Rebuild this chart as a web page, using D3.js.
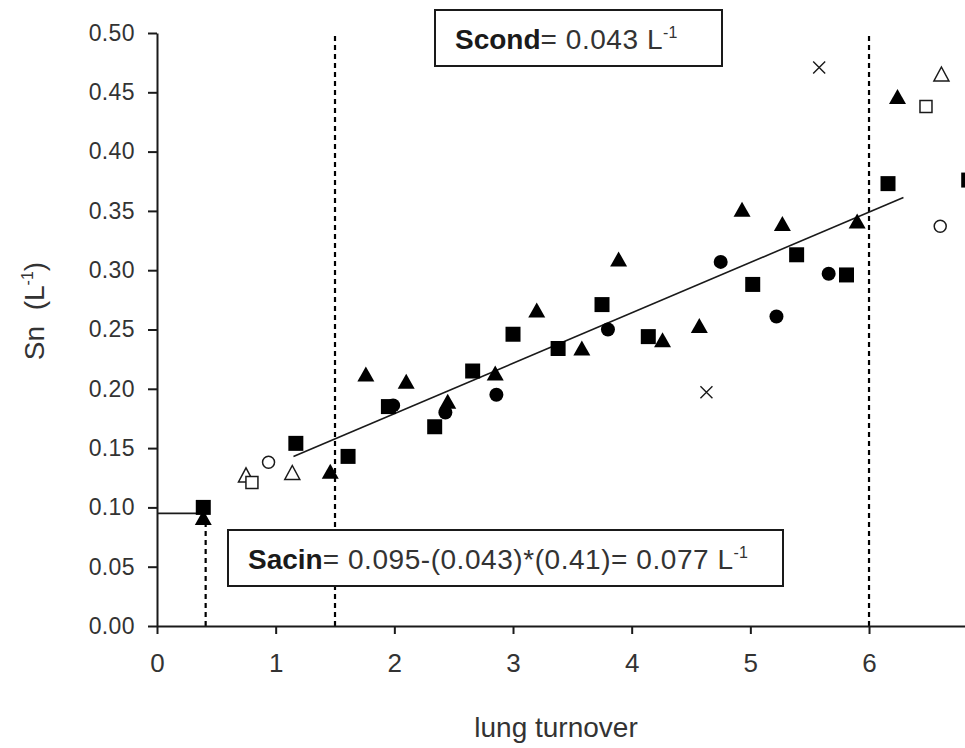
<!DOCTYPE html>
<html>
<head>
<meta charset="utf-8">
<script src="https://cdn.jsdelivr.net/npm/d3@7"></script>
<style>
  body { margin: 0; background: #fff; }
  svg { display: block; font-family: "Liberation Sans", Arial, sans-serif; }
</style>
</head>
<body>
<script>
// values: [lung turnover, Sn]
var xTicks = [0, 1, 2, 3, 4, 5, 6],
  yTicks = [0, 0.05, 0.10, 0.15, 0.20, 0.25, 0.30, 0.35, 0.40, 0.45, 0.50],
  filledSquares = [
    [0.39, 0.100], [1.17, 0.154], [1.61, 0.143], [1.95, 0.185], [2.34, 0.168],
    [2.66, 0.215], [3.00, 0.246], [3.38, 0.234], [3.75, 0.271], [4.14, 0.244],
    [5.02, 0.288], [5.39, 0.313], [5.81, 0.296], [6.16, 0.373], [6.84, 0.376]
  ],
  filledTriangles = [
    [0.39, 0.091], [1.46, 0.130], [1.76, 0.212], [2.10, 0.206], [2.45, 0.189],
    [2.85, 0.213], [3.20, 0.266], [3.58, 0.234], [3.89, 0.309], [4.26, 0.241],
    [4.57, 0.253], [4.93, 0.351], [5.27, 0.339], [5.90, 0.341], [6.24, 0.446]
  ],
  filledCircles = [
    [1.99, 0.186], [2.43, 0.180], [2.86, 0.195], [3.80, 0.250], [4.75, 0.307],
    [5.22, 0.261], [5.66, 0.297]
  ],
  openTriangles = [[0.75, 0.127], [1.14, 0.129], [6.61, 0.465]],
  openSquares = [[0.80, 0.121], [6.48, 0.438]],
  openCircles = [[0.94, 0.138], [6.60, 0.337]],
  crosses = [[4.63, 0.197], [5.58, 0.471]],
  fitRange = [1.15, 6.29],
  fitIntercept = 0.094,
  fitSlope = 0.0425,
  dashedLines = [
    {x: 0.41, top: 0.09},
    {x: 1.5, top: 0.5},
    {x: 6.0, top: 0.5}
  ],
  interceptLine = {y: 0.095, x0: 0, x1: 0.41};

var width = 965,
  height = 748,
  unit = 118.67,
  ink = '#1a1a1a',
  textInk = '#333',
  svg = d3.select('body').append('svg')
    .attr('width', width)
    .attr('height', height),
  x = d3.scaleLinear().domain([0, 7]).range([157, 157 + 7 * unit]),
  y = d3.scaleLinear().domain([0, 0.5]).range([626, 33]),
  markers = {
    square: 'M-7.5,-7.5H7.5V7.5H-7.5Z',
    smallSquare: 'M-6,-6H6V6H-6Z',
    triangle: 'M0,-8L8.5,7L-8.5,7Z',
    openTriangle: 'M0,-7.5L7.5,6.5L-7.5,6.5Z',
    cross: 'M-6,-6L6,6M6,-6L-6,6'
  };

// reference lines
svg.append('g').selectAll('line').data(dashedLines).join('line')
  .attr('x1', function(d) { return x(d.x); })
  .attr('x2', function(d) { return x(d.x); })
  .attr('y1', y(0))
  .attr('y2', function(d) { return y(d.top); })
  .attr('stroke', '#000')
  .attr('stroke-width', 2.2)
  .attr('stroke-dasharray', '5,4');

svg.append('line')
  .attr('x1', x(interceptLine.x0))
  .attr('x2', x(interceptLine.x1))
  .attr('y1', y(interceptLine.y))
  .attr('y2', y(interceptLine.y))
  .attr('stroke', ink)
  .attr('stroke-width', 1.8);

// regression line
svg.append('path')
  .datum(fitRange)
  .attr('d', d3.line()
    .x(function(d) { return x(d); })
    .y(function(d) { return y(fitIntercept + fitSlope * d); }))
  .attr('stroke', ink)
  .attr('stroke-width', 1.6)
  .attr('fill', 'none');

// axes
var xAxis = svg.append('g')
  .attr('transform', 'translate(0,' + y(0) + ')')
  .call(d3.axisBottom(x).tickValues(xTicks).tickSize(8).tickSizeOuter(0)
    .tickPadding(20).tickFormat(d3.format('d')));

var yAxis = svg.append('g')
  .attr('transform', 'translate(' + x(0) + ',0)')
  .call(d3.axisLeft(y).tickValues(yTicks).tickSize(9).tickSizeOuter(0)
    .tickPadding(13).tickFormat(d3.format('.2f')));

[xAxis, yAxis].forEach(function(axis) {
  axis.attr('font-family', null);
  axis.selectAll('path, line').attr('stroke', ink).attr('stroke-width', 2);
  axis.selectAll('text').attr('fill', textInk);
});
xAxis.selectAll('text').attr('font-size', 26);
yAxis.selectAll('text').attr('font-size', 23).attr('letter-spacing', 0.4);

// markers
var drawPath = function(data, shape, fill) {
    svg.append('g').selectAll('path').data(data).join('path')
      .attr('transform', function(d) { return 'translate(' + x(d[0]) + ',' + y(d[1]) + ')'; })
      .attr('d', markers[shape])
      .attr('fill', fill)
      .attr('stroke', ink)
      .attr('stroke-width', fill === 'none' ? 1.4 : (fill === '#fff' ? 1.5 : 0));
  },
  drawCircles = function(data, fill) {
    svg.append('g').selectAll('circle').data(data).join('circle')
      .attr('cx', function(d) { return x(d[0]); })
      .attr('cy', function(d) { return y(d[1]); })
      .attr('r', fill === '#fff' ? 6 : 7)
      .attr('fill', fill)
      .attr('stroke', ink)
      .attr('stroke-width', fill === '#fff' ? 1.5 : 0);
  };

drawPath(filledSquares, 'square', '#000');
drawPath(filledTriangles, 'triangle', '#000');
drawCircles(filledCircles, '#000');
drawPath(openTriangles, 'openTriangle', '#fff');
drawPath(openSquares, 'smallSquare', '#fff');
drawCircles(openCircles, '#fff');
drawPath(crosses, 'cross', 'none');

// annotation boxes
var addBox = function(bx, by, bw, bh, label, rest) {
  var g = svg.append('g'),
    t;
  g.append('rect')
    .attr('x', bx).attr('y', by)
    .attr('width', bw).attr('height', bh)
    .attr('fill', '#fff')
    .attr('stroke', ink)
    .attr('stroke-width', 2);
  t = g.append('text')
    .attr('x', bx + 20)
    .attr('y', by + 39)
    .attr('font-size', 28)
    .attr('fill', ink);
  t.append('tspan').attr('font-weight', 'bold').text(label);
  t.append('tspan').attr('fill', textInk).attr('letter-spacing', 0.55).text(rest);
  t.append('tspan').attr('fill', textInk).attr('font-size', 16).attr('dy', -11).text('-1');
};

addBox(435, 10, 287, 56, 'Scond', '= 0.043 L');
addBox(228, 530, 555, 56, 'Sacin', '= 0.095-(0.043)*(0.41)= 0.077 L');

// axis titles
svg.append('text')
  .attr('x', 556)
  .attr('y', 737)
  .attr('text-anchor', 'middle')
  .attr('font-size', 28)
  .attr('fill', textInk)
  .text('lung turnover');

var yTitle = svg.append('text')
  .attr('transform', 'translate(44,311) rotate(-90)')
  .attr('text-anchor', 'middle')
  .attr('font-size', 28)
  .attr('fill', textInk);
yTitle.append('tspan').text('Sn\u00a0 (L');
yTitle.append('tspan').attr('font-size', 16).attr('dy', -11).text('-1');
yTitle.append('tspan').attr('dy', 11).text(')');
</script>
</body>
</html>
